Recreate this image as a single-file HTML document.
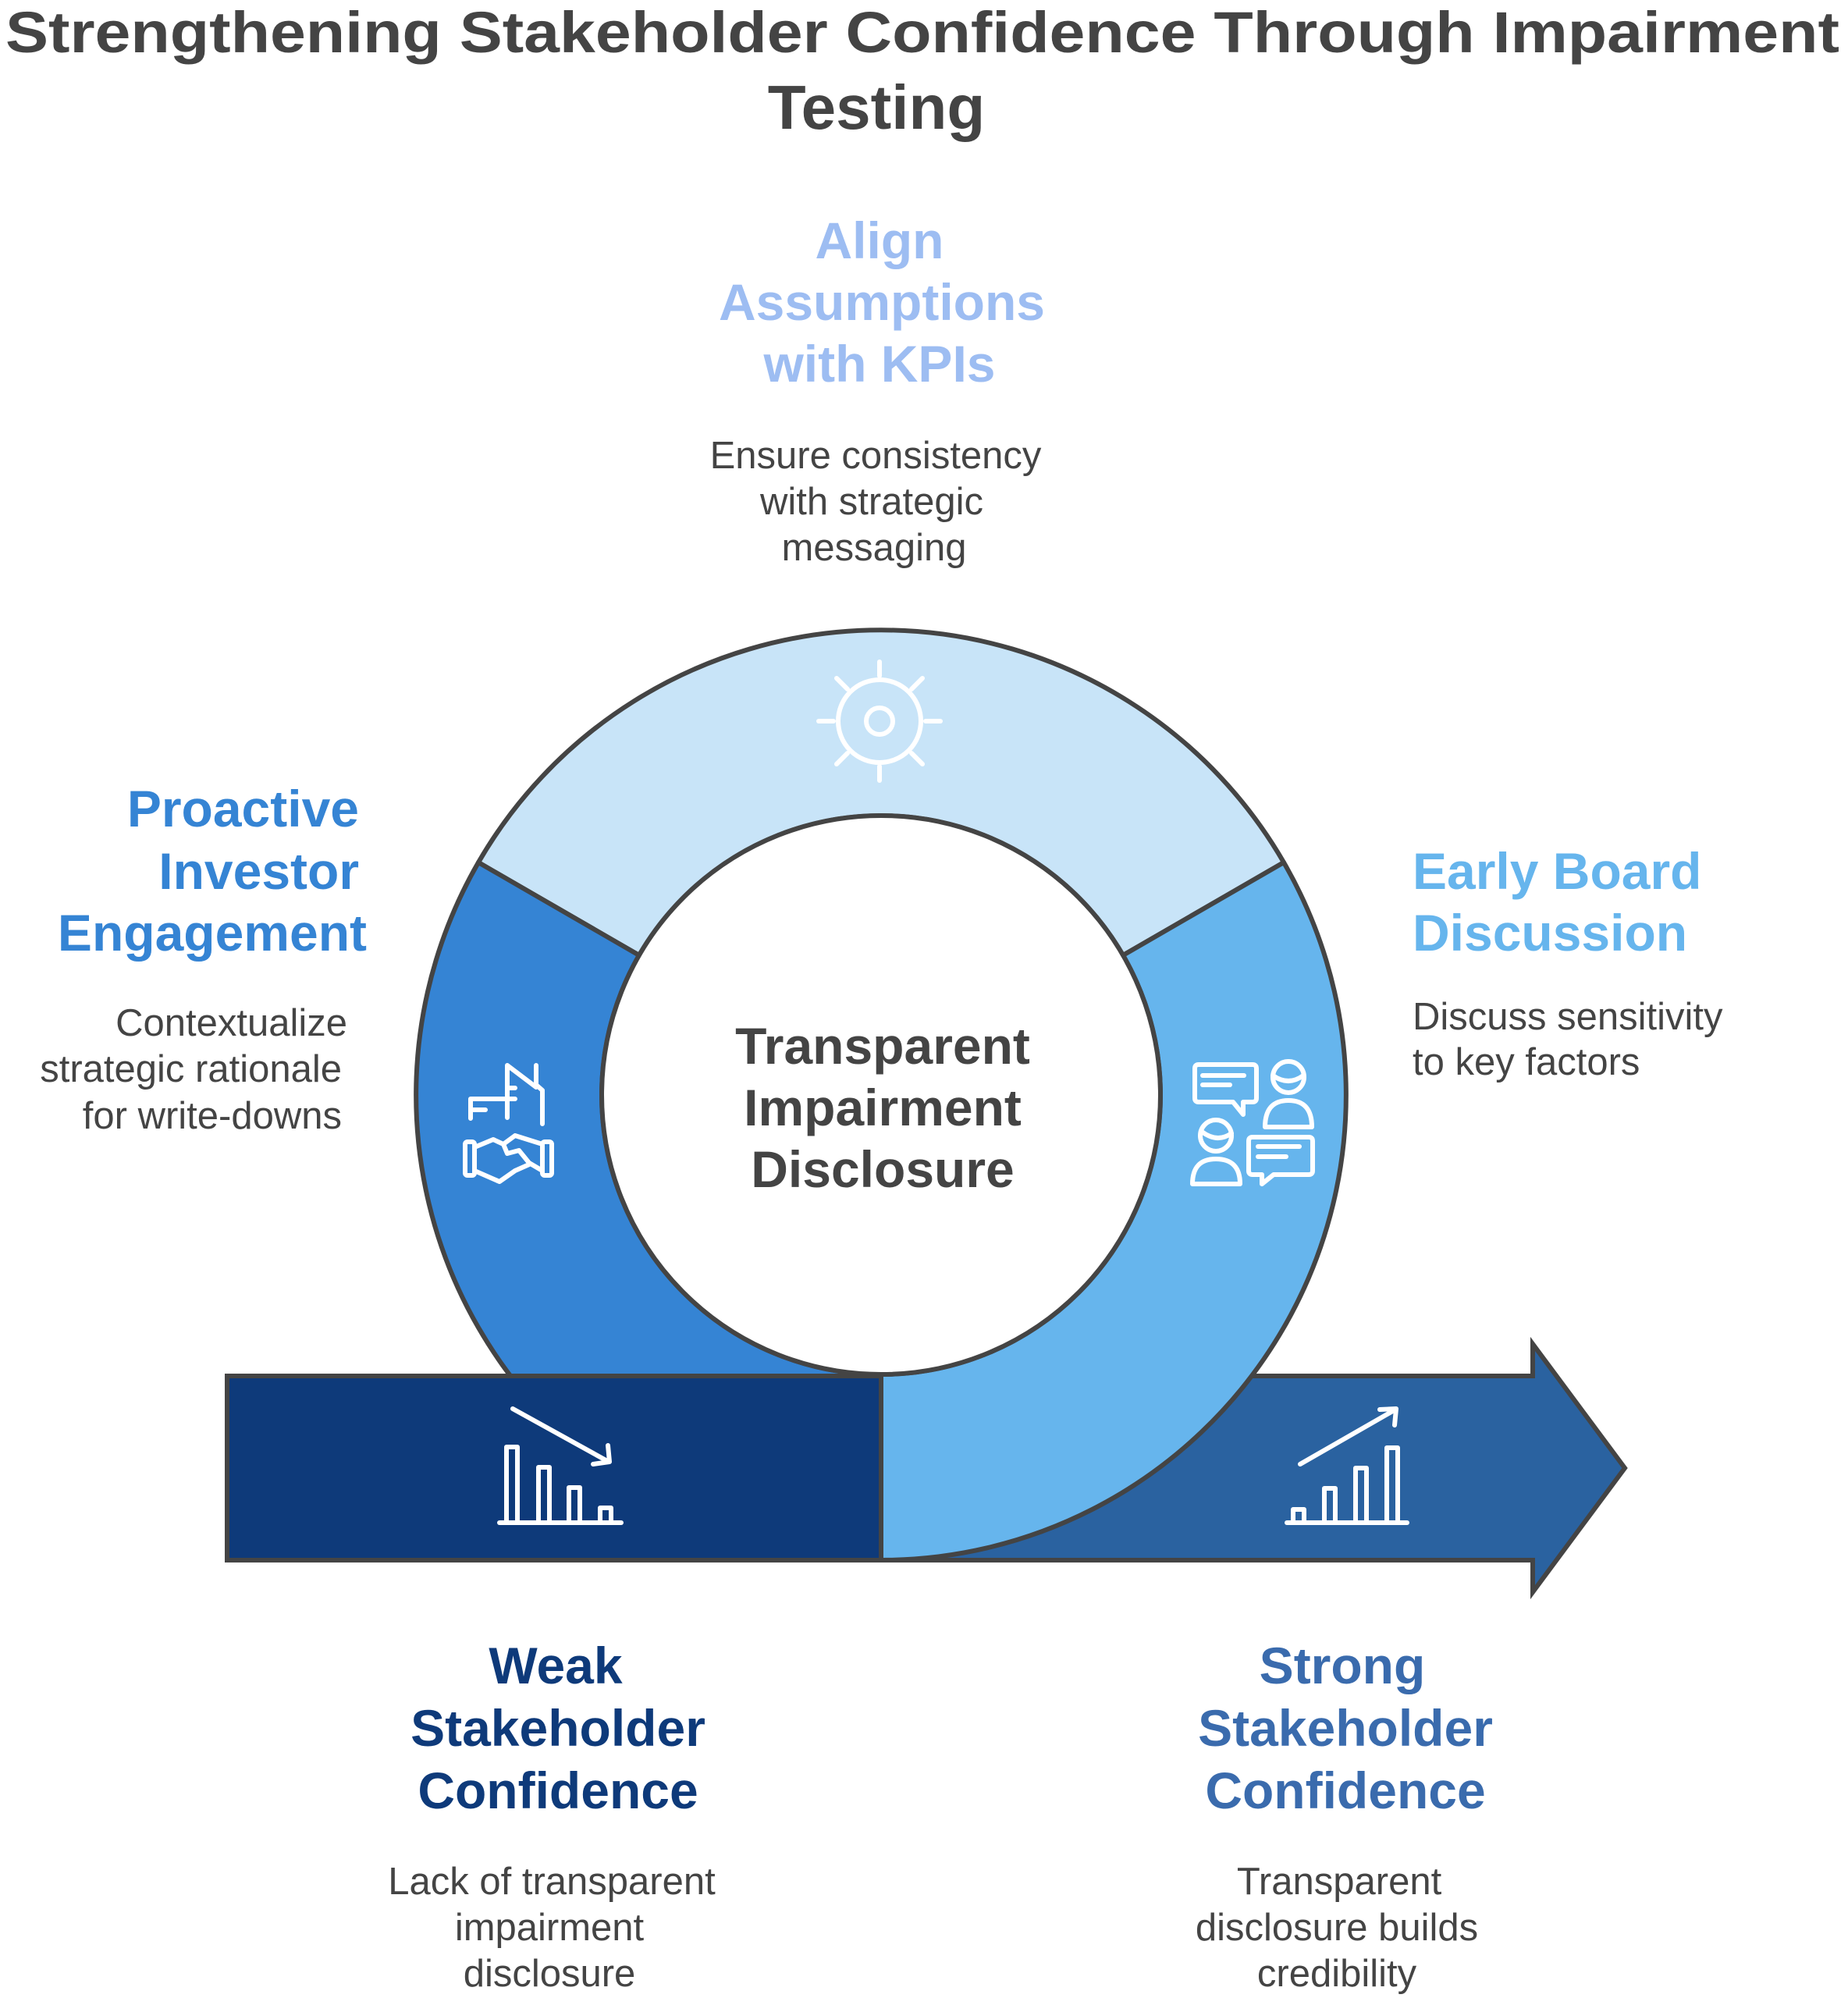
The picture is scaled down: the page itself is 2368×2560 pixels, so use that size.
<!DOCTYPE html>
<html><head><meta charset="utf-8"><style>
html,body{margin:0;padding:0;background:#fff;}
svg{display:block;}
text{font-family:"Liberation Sans",Arial,sans-serif;}
</style></head><body>
<svg width="2368" height="2560" viewBox="0 0 2368 2560" xmlns="http://www.w3.org/2000/svg">
<g font-weight="bold" fill="#444" font-size="74" text-anchor="middle">
<text x="1182" y="67" textLength="2350" lengthAdjust="spacingAndGlyphs">Strengthening Stakeholder Confidence Through Impairment</text>
<text x="1123" y="165" font-size="80">Testing</text>
</g>
<path d="M613,1105 A596,596 0 0 1 1645,1105 L1439,1224 A358,358 0 0 0 819,1224 Z" fill="#c8e4f8" stroke="#444" stroke-width="6" stroke-linejoin="round"/>
<path d="M613,1105 A596,596 0 0 0 1129,1999 L1129,1761 A358,358 0 0 1 819,1224 Z" fill="#3584d4" stroke="#444" stroke-width="6" stroke-linejoin="round"/>
<rect x="291" y="1763" width="838" height="236" fill="#0e3a7a" stroke="#444" stroke-width="6"/>
<polygon points="1129,1763 1964,1763 1964,1722 2082,1881 1964,2040 1964,1999 1129,1999" fill="#2a62a0" stroke="#444" stroke-width="6" stroke-linejoin="miter"/>
<path d="M1645,1105 A596,596 0 0 1 1129,1999 L1129,1761 A358,358 0 0 0 1439,1224 Z" fill="#66b5ed" stroke="#444" stroke-width="6" stroke-linejoin="round"/>
<circle cx="1129" cy="1403" r="358" fill="#fff" stroke="#444" stroke-width="6"/>

<g stroke="#fff" stroke-width="6" fill="none" stroke-linecap="round">
<circle cx="1127" cy="924" r="53"/><circle cx="1127" cy="924" r="17"/>
<line x1="1127" y1="848" x2="1127" y2="866"/><line x1="1127" y1="982" x2="1127" y2="1000"/>
<line x1="1049" y1="924" x2="1068" y2="924"/><line x1="1186" y1="924" x2="1205" y2="924"/>
<line x1="1072" y1="869" x2="1086" y2="883"/><line x1="1168" y1="965" x2="1182" y2="979"/>
<line x1="1182" y1="869" x2="1168" y2="883"/><line x1="1086" y1="965" x2="1072" y2="979"/>
</g>
<g stroke="#fff" stroke-width="6" fill="none" stroke-linecap="round" stroke-linejoin="round">
<path d="M650,1407 V1365 L687,1393 M687,1365 V1390 L695,1397 V1440"/>
<path d="M603,1433 V1408 H660 M603,1422 H622 M650,1394 V1432 M650,1394 H660"/>
<rect x="596" y="1463" width="12" height="43" rx="3"/><rect x="695" y="1463" width="12" height="43" rx="3"/>
<path d="M608,1470 L632,1460 L645,1466 L660,1455 L695,1466 M660,1455 L645,1466 L650,1478 L665,1474 L678,1490 L695,1500 M608,1500 L640,1514 L660,1500 L678,1492"/>
</g>
<g stroke="#fff" stroke-width="6" fill="none" stroke-linecap="round" stroke-linejoin="round">
<path d="M1536,1364 H1605 Q1610,1364 1610,1369 V1407 Q1610,1412 1605,1412 H1593 V1428 L1580,1412 H1536 Q1531,1412 1531,1407 V1369 Q1531,1364 1536,1364 Z"/>
<line x1="1541" y1="1378" x2="1594" y2="1378"/><line x1="1541" y1="1390" x2="1576" y2="1390"/>
<circle cx="1651" cy="1380" r="20"/><path d="M1631,1378 Q1651,1392 1670,1378"/>
<path d="M1621,1444 Q1621,1410 1651,1410 Q1681,1410 1681,1444 Z"/>
<circle cx="1558" cy="1455" r="20"/><path d="M1540,1450 Q1560,1465 1578,1452"/>
<path d="M1528,1517 Q1528,1485 1558,1485 Q1589,1485 1589,1517 Z"/>
<path d="M1605,1457 H1677 Q1682,1457 1682,1462 V1500 Q1682,1505 1677,1505 H1632 L1617,1517 V1505 H1605 Q1600,1505 1600,1500 V1462 Q1600,1457 1605,1457 Z"/>
<line x1="1612" y1="1469" x2="1665" y2="1469"/><line x1="1612" y1="1482" x2="1648" y2="1482"/>
</g>
<g stroke="#fff" stroke-width="6" fill="none" stroke-linecap="round" stroke-linejoin="round">
<line x1="640" y1="1951" x2="796" y2="1951"/>
<rect x="649" y="1854" width="14" height="97"/><rect x="690" y="1880" width="14" height="71"/>
<rect x="729" y="1906" width="14" height="45"/><rect x="769" y="1932" width="14" height="19"/>
<line x1="657" y1="1805" x2="780" y2="1873"/><path d="M760,1876 L781,1873 L779,1852"/>
</g>
<g stroke="#fff" stroke-width="6" fill="none" stroke-linecap="round" stroke-linejoin="round">
<line x1="1649" y1="1951" x2="1803" y2="1951"/>
<rect x="1657" y="1934" width="14" height="17"/><rect x="1697" y="1907" width="14" height="44"/>
<rect x="1737" y="1881" width="14" height="70"/><rect x="1777" y="1855" width="14" height="96"/>
<line x1="1666" y1="1876" x2="1788" y2="1806"/><path d="M1768,1806 L1789,1805 L1787,1826"/>
</g>

<g font-weight="bold" fill="#444" font-size="66" text-anchor="middle">
<text x="1131" y="1363">Transparent</text>
<text x="1131" y="1442">Impairment</text>
<text x="1131" y="1521">Disclosure</text>
</g>
<g font-weight="bold" fill="#9dbdf2" font-size="66" text-anchor="middle">
<text x="1127" y="331">Align</text>
<text x="1130" y="410">Assumptions</text>
<text x="1127" y="489">with KPIs</text>
</g>
<g fill="#444" font-size="49" text-anchor="middle">
<text x="1122" y="600">Ensure consistency</text>
<text x="1117" y="659">with strategic</text>
<text x="1120" y="718">messaging</text>
</g>
<g font-weight="bold" fill="#3584d4" font-size="66" text-anchor="end">
<text x="460" y="1059">Proactive</text>
<text x="460" y="1139">Investor</text>
<text x="470" y="1218">Engagement</text>
</g>
<g fill="#444" font-size="49" text-anchor="end">
<text x="445" y="1327">Contextualize</text>
<text x="438" y="1386">strategic rationale</text>
<text x="438" y="1446">for write-downs</text>
</g>
<g font-weight="bold" fill="#66b5ed" font-size="66">
<text x="1810" y="1139">Early Board</text>
<text x="1810" y="1218">Discussion</text>
</g>
<g fill="#444" font-size="49">
<text x="1810" y="1319">Discuss sensitivity</text>
<text x="1810" y="1377">to key factors</text>
</g>
<g font-weight="bold" fill="#0e3a7a" font-size="66" text-anchor="middle">
<text x="712" y="2157">Weak</text>
<text x="715" y="2237">Stakeholder</text>
<text x="715" y="2317">Confidence</text>
</g>
<g fill="#444" font-size="49" text-anchor="middle">
<text x="707" y="2427">Lack of transparent</text>
<text x="704" y="2486">impairment</text>
<text x="704" y="2545">disclosure</text>
</g>
<g font-weight="bold" fill="#3a6bad" font-size="66" text-anchor="middle">
<text x="1720" y="2157">Strong</text>
<text x="1724" y="2237">Stakeholder</text>
<text x="1724" y="2317">Confidence</text>
</g>
<g fill="#444" font-size="49" text-anchor="middle">
<text x="1716" y="2427">Transparent</text>
<text x="1713" y="2486">disclosure builds</text>
<text x="1713" y="2545">credibility</text>
</g>
</svg>
</body></html>
